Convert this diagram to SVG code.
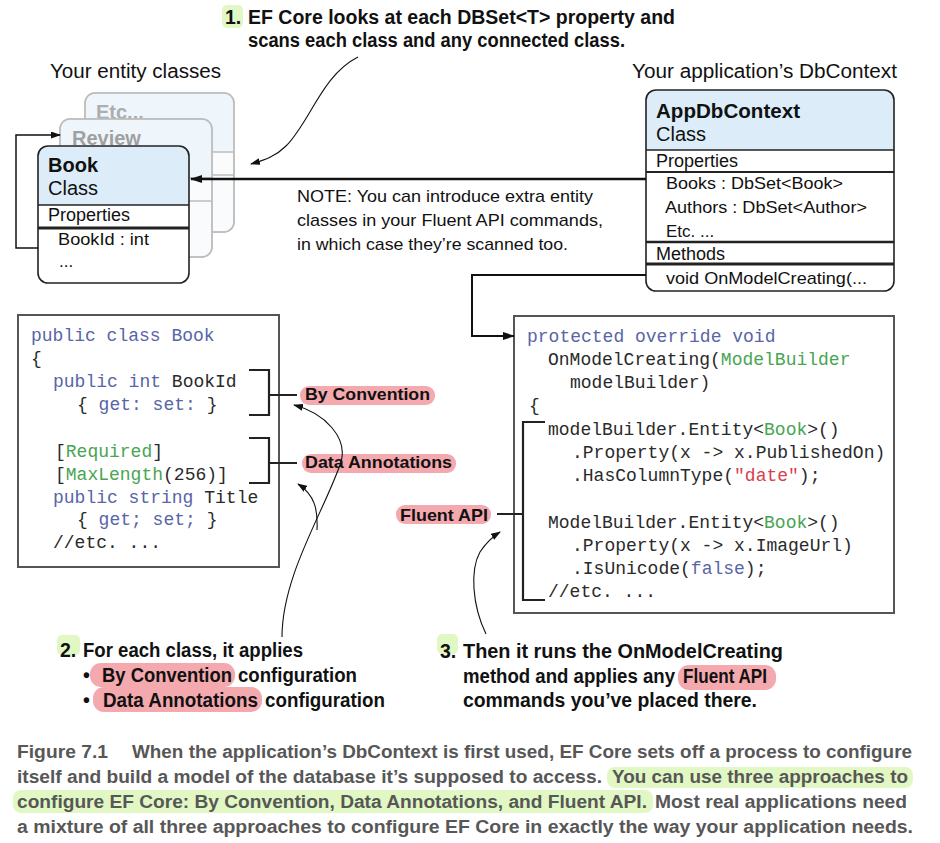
<svg xmlns="http://www.w3.org/2000/svg" width="940" height="843" viewBox="0 0 940 843">
<defs>
<marker id="ahL" viewBox="0 0 12 8" refX="11" refY="4" markerWidth="12" markerHeight="8" orient="auto" markerUnits="userSpaceOnUse"><path d="M0,0 L12,4 L0,8 Z" fill="#111"/></marker>
<marker id="ahS" viewBox="0 0 10 7" refX="9" refY="3.5" markerWidth="10" markerHeight="7" orient="auto" markerUnits="userSpaceOnUse"><path d="M0,0 L10,3.5 L0,7 Z" fill="#111"/></marker>
</defs>
<style>
.sans{font-family:"Liberation Sans",Arial,sans-serif;fill:#111}
.mono{font-family:"Liberation Mono","Courier New",monospace;font-size:18px}
.kw{fill:#5865a6}.ty{fill:#48a552}.st{fill:#d8404e}.tx{fill:#2a2a2a}
.ann{font-family:"Liberation Sans",Arial,sans-serif;font-weight:bold;font-size:19.5px;fill:#111}
.cap{font-family:"Liberation Sans",Arial,sans-serif;font-weight:bold;font-size:18px;fill:#575757}
.pink{fill:#f4a9af}
.green{fill:#e2f8c4}
.lbl{font-family:"Liberation Sans",Arial,sans-serif;font-weight:bold;font-size:16.5px;fill:#111}
.fade{fill:#fafbfc;stroke:#bdbdbd;stroke-width:1.5}
.fadeh{fill:#eef6fc}
.fl{stroke:#bdbdbd;stroke-width:1.5}
.bx{fill:none;stroke:#222;stroke-width:1.6}
.hd{fill:#dcedf9}
.code{fill:#fff;stroke:#555;stroke-width:2}
.br{fill:none;stroke:#222;stroke-width:2.2}
.cn{fill:none;stroke:#111}
</style>

<!-- headings -->
<text class="sans" x="50" y="78" font-size="20" textLength="171" lengthAdjust="spacingAndGlyphs">Your entity classes</text>
<text class="sans" x="632" y="78" font-size="20" textLength="265" lengthAdjust="spacingAndGlyphs">Your application’s DbContext</text>

<!-- callout 1 -->
<g id="callout1">
<rect class="green" x="222" y="5" width="21" height="23" rx="5"/>
<text class="ann" x="225" y="24">1.</text>
<text class="ann" x="248" y="24" textLength="427" lengthAdjust="spacingAndGlyphs">EF Core looks at each DBSet&lt;T&gt; property and</text>
<text class="ann" x="248" y="47" textLength="377" lengthAdjust="spacingAndGlyphs">scans each class and any connected class.</text>
</g>

<!-- Etc box -->
<g id="etc">
<rect class="fade" x="85" y="93" width="149" height="139" rx="10"/>
<path class="fadeh" d="M85.8,152 V103 Q85.8,93.8 95,93.8 H224 Q233.2,93.8 233.2,103 V152 Z"/>
<line class="fl" x1="85" y1="152" x2="234" y2="152"/>
<line class="fl" x1="85" y1="175" x2="234" y2="175"/>
<rect x="85" y="93" width="149" height="139" rx="10" fill="none" stroke="#bdbdbd" stroke-width="1.5"/>
<text class="sans" x="96" y="119" font-size="20" font-weight="bold" style="fill:#adadad">Etc...</text>
</g>

<!-- Review box -->
<g id="review">
<rect class="fade" x="60" y="119" width="152" height="138" rx="10"/>
<path class="fadeh" d="M60.8,178 V129 Q60.8,119.8 70,119.8 H202 Q211.2,119.8 211.2,129 V178 Z"/>
<line class="fl" x1="60" y1="178" x2="212" y2="178"/>
<line class="fl" x1="60" y1="201" x2="212" y2="201"/>
<rect x="60" y="119" width="152" height="138" rx="10" fill="none" stroke="#bdbdbd" stroke-width="1.5"/>
<text class="sans" x="72" y="145" font-size="20" font-weight="bold" style="fill:#a0a0a0">Review</text>
</g>

<!-- Book box -->
<g id="book">
<rect x="38" y="146" width="151" height="137" rx="10" fill="#fff"/>
<path class="hd" d="M38,205 V156 Q38,146 48,146 H179 Q189,146 189,156 V205 Z"/>
<line x1="38" y1="205" x2="189" y2="205" stroke="#222" stroke-width="1.5"/>
<line x1="38" y1="228" x2="189" y2="228" stroke="#222" stroke-width="3"/>
<rect class="bx" x="38" y="146" width="151" height="137" rx="10"/>
<text class="sans" x="48" y="172" font-size="20" font-weight="bold">Book</text>
<text class="sans" x="48" y="195" font-size="20">Class</text>
<text class="sans" x="48" y="221" font-size="18">Properties</text>
<text class="sans" x="58" y="245" font-size="17" textLength="91" lengthAdjust="spacingAndGlyphs">BookId : int</text>
<text class="sans" x="59" y="267" font-size="17">...</text>
</g>

<!-- AppDbContext box -->
<g id="appdbcontext">
<rect x="646" y="90" width="248" height="201" rx="10" fill="#fff"/>
<path class="hd" d="M646,150 V100 Q646,90 656,90 H884 Q894,90 894,100 V150 Z"/>
<line x1="646" y1="150" x2="894" y2="150" stroke="#222" stroke-width="1.5"/>
<line x1="646" y1="172" x2="894" y2="172" stroke="#222" stroke-width="2"/>
<line x1="646" y1="242" x2="894" y2="242" stroke="#222" stroke-width="2.5"/>
<line x1="646" y1="264" x2="894" y2="264" stroke="#222" stroke-width="3"/>
<rect class="bx" x="646" y="90" width="248" height="201" rx="10"/>
<text class="sans" x="656" y="118" font-size="20" font-weight="bold" textLength="144" lengthAdjust="spacingAndGlyphs">AppDbContext</text>
<text class="sans" x="656" y="141" font-size="20">Class</text>
<text class="sans" x="656" y="167" font-size="18">Properties</text>
<text class="sans" x="666" y="189" font-size="17" textLength="177" lengthAdjust="spacingAndGlyphs">Books : DbSet&lt;Book&gt;</text>
<text class="sans" x="665" y="213" font-size="17" textLength="202" lengthAdjust="spacingAndGlyphs">Authors : DbSet&lt;Author&gt;</text>
<text class="sans" x="666" y="237" font-size="17">Etc. ...</text>
<text class="sans" x="656" y="260" font-size="18">Methods</text>
<text class="sans" x="666" y="284" font-size="17" textLength="201" lengthAdjust="spacingAndGlyphs">void OnModelCreating(...</text>
</g>

<!-- note -->
<g id="note">
<text class="sans" x="297" y="202" font-size="17" textLength="296" lengthAdjust="spacingAndGlyphs">NOTE: You can introduce extra entity</text>
<text class="sans" x="297" y="226" font-size="17" textLength="306" lengthAdjust="spacingAndGlyphs">classes in your Fluent API commands,</text>
<text class="sans" x="297" y="250" font-size="17" textLength="271" lengthAdjust="spacingAndGlyphs">in which case they’re scanned too.</text>
</g>

<!-- Left code box -->
<g id="bookcode">
<rect class="code" x="18" y="315" width="261" height="252"/>
<text class="mono" x="31" y="341"><tspan class="kw">public class Book</tspan></text>
<text class="mono tx" x="31" y="364">{</text>
<text class="mono" x="53" y="387"><tspan class="kw">public int </tspan><tspan class="tx">BookId</tspan></text>
<text class="mono" x="77" y="410"><tspan class="tx">{ </tspan><tspan class="kw">get: set:</tspan><tspan class="tx"> }</tspan></text>
<text class="mono" x="55" y="457"><tspan class="tx">[</tspan><tspan class="ty">Required</tspan><tspan class="tx">]</tspan></text>
<text class="mono" x="55" y="480"><tspan class="tx">[</tspan><tspan class="ty">MaxLength</tspan><tspan class="tx">(256)]</tspan></text>
<text class="mono" x="53" y="503"><tspan class="kw">public string </tspan><tspan class="tx">Title</tspan></text>
<text class="mono" x="77" y="525"><tspan class="tx">{ </tspan><tspan class="kw">get; set;</tspan><tspan class="tx"> }</tspan></text>
<text class="mono tx" x="53" y="548">//etc. ...</text>
</g>

<!-- Right code box -->
<g id="onmodelcode">
<rect class="code" x="514" y="316" width="380" height="297"/>
<text class="mono kw" x="527" y="342">protected override void</text>
<text class="mono" x="548" y="365"><tspan class="tx">OnModelCreating(</tspan><tspan class="ty">ModelBuilder</tspan></text>
<text class="mono tx" x="570" y="388">modelBuilder)</text>
<text class="mono tx" x="529" y="411">{</text>
<text class="mono" x="548" y="435"><tspan class="tx">modelBuilder.Entity&lt;</tspan><tspan class="ty">Book</tspan><tspan class="tx">&gt;()</tspan></text>
<text class="mono tx" x="572" y="458">.Property(x -&gt; x.PublishedOn)</text>
<text class="mono" x="572" y="481"><tspan class="tx">.HasColumnType(</tspan><tspan class="st">"date"</tspan><tspan class="tx">);</tspan></text>
<text class="mono" x="548" y="528"><tspan class="tx">ModelBuilder.Entity&lt;</tspan><tspan class="ty">Book</tspan><tspan class="tx">&gt;()</tspan></text>
<text class="mono tx" x="572" y="551">.Property(x -&gt; x.ImageUrl)</text>
<text class="mono" x="572" y="574"><tspan class="tx">.IsUnicode(</tspan><tspan class="kw">false</tspan><tspan class="tx">);</tspan></text>
<text class="mono tx" x="548" y="597">//etc. ...</text>
</g>

<!-- labels -->
<g id="byconvention">
<rect class="pink" x="300" y="386" width="135" height="19" rx="9"/>
<text class="lbl" x="305" y="400" textLength="125" lengthAdjust="spacingAndGlyphs">By Convention</text>
</g>
<g id="dataannotations">
<rect class="pink" x="302" y="454" width="154" height="19" rx="9"/>
<text class="lbl" x="305" y="468" textLength="147" lengthAdjust="spacingAndGlyphs">Data Annotations</text>
</g>
<g id="fluentapi">
<rect class="pink" x="396" y="505" width="95" height="19" rx="9"/>
<text class="lbl" x="400" y="521" textLength="88" lengthAdjust="spacingAndGlyphs">Fluent API</text>
</g>

<!-- connectors -->
<g id="connectors">
<path class="cn" stroke-width="1.5" d="M38,248 H16 V135 H60" marker-end="url(#ahS)"/>
<path class="cn" stroke-width="2.5" d="M646,179 H191" marker-end="url(#ahL)"/>
<path class="cn" stroke-width="2" d="M646,275 H472 V336 H514" marker-end="url(#ahL)"/>
<path class="cn" stroke-width="1.1" d="M358,57 C322,75 310,122 286,146 C276,156 265,160 251,164" marker-end="url(#ahS)"/>
<path class="br" d="M249,370 H269 V415 H249 M269,395 H297"/>
<path class="br" d="M249,438 H269 V483 H249 M269,463 H297"/>
<path class="br" d="M545,422 H523 V600 H545 M497,514 H523"/>
<path class="cn" stroke-width="1.1" d="M282,637 C282,575 325,510 341,462 C348,438 325,413 294,405" marker-end="url(#ahS)"/>
<path class="cn" stroke-width="1.1" d="M317,530 C318,510 315,495 298,484" marker-end="url(#ahS)"/>
<path class="cn" stroke-width="1.1" d="M486,634 C472,605 470,570 480,552 C486,543 492,537 500,532" marker-end="url(#ahS)"/>
</g>

<!-- annotation 2 -->
<g id="callout2">
<rect class="green" x="57" y="635" width="23" height="20" rx="5"/>
<text class="ann" x="60" y="657">2.</text>
<text class="ann" x="83" y="657" textLength="220" lengthAdjust="spacingAndGlyphs">For each class, it applies</text>
<text class="ann" x="83" y="682">•</text>
<rect class="pink" x="90" y="663" width="145" height="24" rx="11"/>
<text class="ann" x="102" y="682" textLength="130" lengthAdjust="spacingAndGlyphs">By Convention</text>
<text class="ann" x="238" y="682" textLength="119" lengthAdjust="spacingAndGlyphs">configuration</text>
<text class="ann" x="83" y="707">•</text>
<rect class="pink" x="93" y="687" width="169" height="25" rx="11"/>
<text class="ann" x="103" y="707" textLength="155" lengthAdjust="spacingAndGlyphs">Data Annotations</text>
<text class="ann" x="265" y="707" textLength="120" lengthAdjust="spacingAndGlyphs">configuration</text>
</g>

<!-- annotation 3 -->
<g id="callout3">
<rect class="green" x="437" y="634" width="21" height="20" rx="5"/>
<text class="ann" x="440" y="658">3.</text>
<text class="ann" x="463" y="658" textLength="320" lengthAdjust="spacingAndGlyphs">Then it runs the OnModelCreating</text>
<text class="ann" x="463" y="683" textLength="212" lengthAdjust="spacingAndGlyphs">method and applies any</text>
<rect class="pink" x="678" y="665" width="98" height="25" rx="11"/>
<text class="ann" x="683" y="683" textLength="84" lengthAdjust="spacingAndGlyphs">Fluent API</text>
<text class="ann" x="463" y="707" textLength="294" lengthAdjust="spacingAndGlyphs">commands you’ve placed there.</text>
</g>

<!-- caption -->
<g id="caption">
<rect class="green" x="607" y="767" width="306" height="21" rx="8"/>
<rect class="green" x="13" y="790" width="640" height="23" rx="8"/>
<text class="cap" x="17" y="758" textLength="91" lengthAdjust="spacingAndGlyphs">Figure 7.1</text>
<text class="cap" x="132" y="758" textLength="780" lengthAdjust="spacingAndGlyphs">When the application’s DbContext is first used, EF Core sets off a process to configure</text>
<text class="cap" x="17" y="783" textLength="585" lengthAdjust="spacingAndGlyphs">itself and build a model of the database it’s supposed to access.</text>
<text class="cap" x="612" y="783" textLength="296" lengthAdjust="spacingAndGlyphs">You can use three approaches to</text>
<text class="cap" x="17" y="808" textLength="630" lengthAdjust="spacingAndGlyphs">configure EF Core: By Convention, Data Annotations, and Fluent API.</text>
<text class="cap" x="655" y="808" textLength="252" lengthAdjust="spacingAndGlyphs">Most real applications need</text>
<text class="cap" x="17" y="833" textLength="896" lengthAdjust="spacingAndGlyphs">a mixture of all three approaches to configure EF Core in exactly the way your application needs.</text>
</g>
</svg>
